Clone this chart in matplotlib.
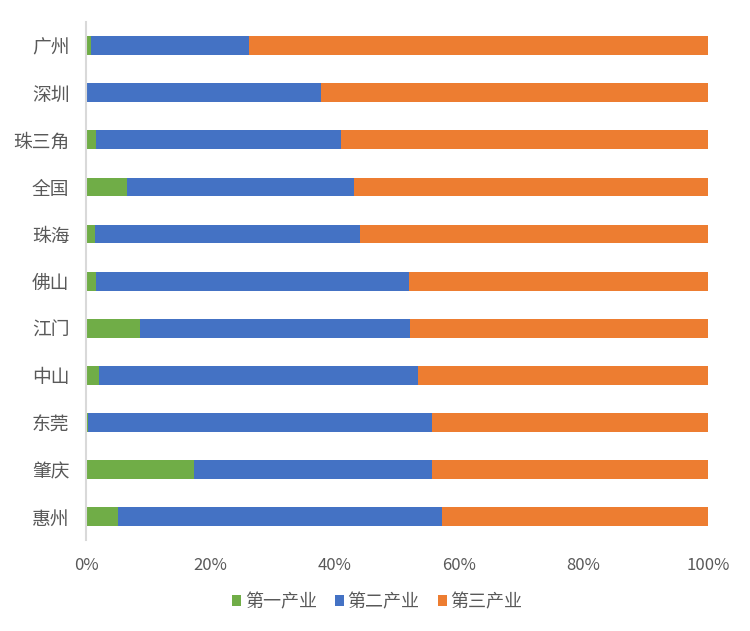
import matplotlib.pyplot as plt
import numpy as np
from matplotlib.ticker import PercentFormatter

plt.rcParams['font.family'] = ['Noto Sans CJK SC', 'DejaVu Sans']

cities = ['广州', '深圳', '珠三角', '全国', '珠海', '佛山', '江门', '中山', '东莞', '肇庆', '惠州']
primary = [0.8, 0.1, 1.6, 6.6, 1.4, 1.6, 8.7, 2.1, 0.3, 17.4, 5.1]
secondary = [25.4, 37.7, 39.4, 36.5, 42.7, 50.3, 43.4, 51.3, 55.3, 38.2, 52.1]
tertiary = [100 - a - b for a, b in zip(primary, secondary)]

series_names = ['第一产业', '第二产业', '第三产业']
colors = ['#70AD47', '#4472C4', '#ED7D31']

fig = plt.figure(figsize=(7.5, 6.31), dpi=100)
ax = fig.add_axes([0.1147, 0.144, 0.829, 0.821])

y = np.arange(len(cities))
left = np.zeros(len(cities))
for vals, name, c in zip([primary, secondary, tertiary], series_names, colors):
    ax.barh(y, vals, left=left, height=0.4, color=c, label=name)
    left += np.array(vals)

ax.set_ylim(10.5, -0.5)
ax.set_xlim(0, 100)
ax.set_yticks(y)
ax.set_yticklabels(cities, fontsize=13.5, color='#595959')
ax.set_xticks([0, 20, 40, 60, 80, 100])
ax.xaxis.set_major_formatter(PercentFormatter(decimals=0))
ax.tick_params(axis='x', labelsize=12, colors='#595959', length=0, pad=12)
ax.tick_params(axis='y', length=0, pad=12)

for s in ['top', 'right', 'bottom']:
    ax.spines[s].set_visible(False)
ax.spines['left'].set_color('#D9D9D9')
ax.spines['left'].set_linewidth(1.5)

fig.legend(loc='center', bbox_to_anchor=(0.503, 0.046), ncol=3, frameon=False,
           fontsize=13, handlelength=0.5, handleheight=0.5, handletextpad=0.2,
           columnspacing=1.0, labelcolor='#595959')

fig.savefig('out.png')
